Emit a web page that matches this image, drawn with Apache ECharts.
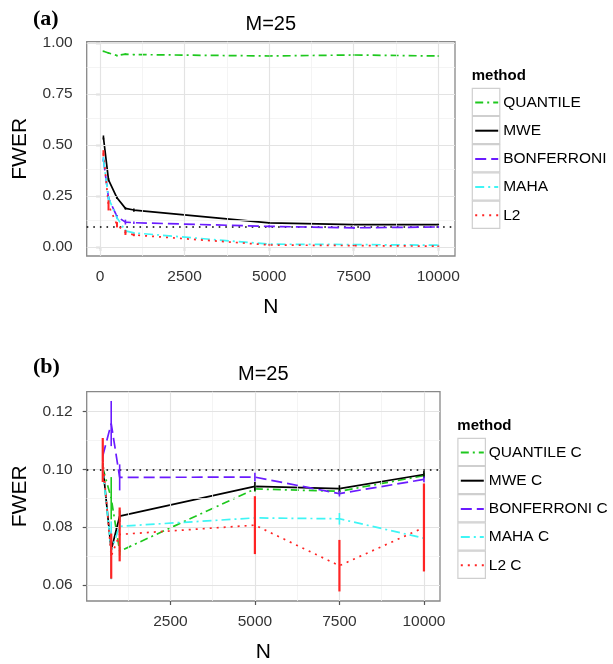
<!DOCTYPE html>
<html><head><meta charset="utf-8">
<script src="https://cdn.jsdelivr.net/npm/echarts@6/dist/echarts.min.js"></script>
<style>html,body{margin:0;padding:0;background:#fff}#c{width:613px;height:664px}</style>
</head><body><div id="c"></div>
<script>
// ---------- data: panel (a) ----------
const N_A = [100, 250, 500, 750, 1000, 5000, 7500, 10000];
const QUANTILE_A   = [0.959, 0.951, 0.938, 0.945, 0.943, 0.936, 0.941, 0.936];
const MWE_A        = [0.537, 0.330, 0.242, 0.190, 0.182, 0.119, 0.111, 0.111];
const BONFERRONI_A = [0.430, 0.240, 0.150, 0.123, 0.120, 0.102, 0.095, 0.099];
const MAHA_A       = [0.430, 0.240, 0.145, 0.080, 0.070, 0.015, 0.013, 0.010];
const L2_A         = [0.460, 0.205, 0.110, 0.072, 0.060, 0.011, 0.008, 0.005];
const QUANTILE_A_ERR   = [0.004, 0.004, 0.004, 0.004, 0.003, 0.003, 0.003, 0.003];
const MWE_A_ERR        = [0.010, 0.008, 0.006, 0.006, 0.008, 0.004, 0.003, 0.004];
const BONFERRONI_A_ERR = [0.010, 0.008, 0.008, 0.012, 0.006, 0.005, 0.005, 0.005];
const MAHA_A_ERR       = [0.012, 0.010, 0.008, 0.007, 0.005, 0.003, 0.003, 0.003];
const L2_A_ERR         = [0.015, 0.025, 0.013, 0.012, 0.006, 0.003, 0.003, 0.003];
const NAMES_A = ['QUANTILE', 'MWE', 'BONFERRONI', 'MAHA', 'L2'];

// ---------- data: panel (b) ----------
const N_B = [500, 750, 1000, 5000, 7500, 10000];
const QUANTILE_B   = [0.1005, 0.0900, 0.0717, 0.0932, 0.0924, 0.0978];
const MWE_B        = [0.1012, 0.0721, 0.0838, 0.0941, 0.0933, 0.0982];
const BONFERRONI_B = [0.1046, 0.1158, 0.0972, 0.0973, 0.0916, 0.0965];
const MAHA_B       = [0.1000, 0.0720, 0.0803, 0.0832, 0.0829, 0.0762];
const L2_B         = [0.1032, 0.0700, 0.0775, 0.0807, 0.0667, 0.0799];
const QUANTILE_B_ERR   = [0.0010, 0.0073, 0.0015, 0.0010, 0.0010, 0.0010];
const MWE_B_ERR        = [0.0010, 0.0020, 0.0020, 0.0015, 0.0012, 0.0012];
const BONFERRONI_B_ERR = [0.0020, 0.0078, 0.0045, 0.0015, 0.0010, 0.0010];
const MAHA_B_ERR       = [0.0015, 0.0100, 0.0010, 0.0010, 0.0020, 0.0010];
const L2_B_ERR         = [0.0076, 0.0078, 0.0093, 0.0100, 0.0089, 0.0152];
const NAMES_B = ['QUANTILE C', 'MWE C', 'BONFERRONI C', 'MAHA C', 'L2 C'];

// ---------- axis ticks ----------
const X_TICKS_A = [0, 2500, 5000, 7500, 10000];
const X_MINOR_A = [1250, 3750, 6250, 8750];
const Y_TICKS_A = [0, 0.25, 0.5, 0.75, 1.0];
const Y_MINOR_A = [0.125, 0.375, 0.625, 0.875];
const X_TICKS_B = [2500, 5000, 7500, 10000];
const X_MINOR_B = [1250, 3750, 6250, 8750];
const Y_TICKS_B = [0.06, 0.08, 0.10, 0.12];
const Y_MINOR_B = [0.07, 0.09, 0.11];
const REF_LEVEL = 0.1;

// ---------- styles ----------
const FONT = 'Liberation Sans, Arial, Helvetica, sans-serif';
const COLORS = ['#1ec81e', '#000000', '#6a1bff', '#3ff5f5', '#ff2424'];
const DASHES = [[8, 4, 2, 4], 'solid', [11, 5], [9, 4, 2, 4], [2, 5]];
const LW = 1.7;

const seriesA = [QUANTILE_A, MWE_A, BONFERRONI_A, MAHA_A, L2_A];
const errA = [QUANTILE_A_ERR, MWE_A_ERR, BONFERRONI_A_ERR, MAHA_A_ERR, L2_A_ERR];
const seriesB = [QUANTILE_B, MWE_B, BONFERRONI_B, MAHA_B, L2_B];
const errB = [QUANTILE_B_ERR, MWE_B_ERR, BONFERRONI_B_ERR, MAHA_B_ERR, L2_B_ERR];

function gridLines(idx, xs, ys, xm, ym) {
  const maj = {color: '#e3e3e3', width: 1.2, type: 'solid'};
  const min = {color: '#f1f1f1', width: 0.8, type: 'solid'};
  const data = [];
  xm.forEach(v => data.push({xAxis: v, lineStyle: min}));
  ym.forEach(v => data.push({yAxis: v, lineStyle: min}));
  xs.forEach(v => data.push({xAxis: v, lineStyle: maj}));
  ys.forEach(v => data.push({yAxis: v, lineStyle: maj}));
  return {
    type: 'line', xAxisIndex: idx, yAxisIndex: idx, data: [], z: 1, silent: true,
    symbol: 'none', lineStyle: {opacity: 0},
    markLine: {silent: true, symbol: ['none', 'none'], label: {show: false}, animation: false, data: data}
  };
}

function lineSeries(name, N, vals, idx, k, withRef) {
  const s = {
    name: name, type: 'line', xAxisIndex: idx, yAxisIndex: idx,
    data: N.map((n, i) => [n, vals[i]]),
    symbol: 'none', showSymbol: false, z: 3 + k, color: COLORS[k],
    lineStyle: {color: COLORS[k], width: LW, type: DASHES[k]},
    emphasis: {disabled: true}, animation: false
  };
  if (withRef) {
    s.markLine = {silent: true, symbol: ['none', 'none'], label: {show: false}, animation: false,
      lineStyle: {color: '#000', type: [1.6, 5], width: 1.6}, data: [{yAxis: REF_LEVEL}]};
  }
  return s;
}

function errSeries(name, N, vals, errs, idx, k, w) {
  return {
    name: name + ' err', type: 'custom', xAxisIndex: idx, yAxisIndex: idx, silent: true,
    z: 10 + k, animation: false,
    data: N.map((n, i) => [n, vals[i] - errs[i], vals[i] + errs[i]]),
    encode: {x: 0, y: [1, 2]},
    renderItem: function (params, api) {
      const x = api.value(0);
      const p1 = api.coord([x, api.value(1)]);
      const p2 = api.coord([x, api.value(2)]);
      return {type: 'line', shape: {x1: p1[0], y1: p1[1], x2: p2[0], y2: p2[1]},
        style: {stroke: COLORS[k], lineWidth: w}};
    }
  };
}

const series = [gridLines(0, X_TICKS_A, Y_TICKS_A, X_MINOR_A, Y_MINOR_A),
                gridLines(1, X_TICKS_B, Y_TICKS_B, X_MINOR_B, Y_MINOR_B)];
NAMES_A.forEach((nm, k) => series.push(lineSeries(nm, N_A, seriesA[k], 0, k, k === 1)));
NAMES_A.forEach((nm, k) => series.push(errSeries(nm, N_A, seriesA[k], errA[k], 0, k, k === 4 ? 2 : 1.6)));
NAMES_B.forEach((nm, k) => series.push(lineSeries(nm, N_B, seriesB[k], 1, k, k === 1)));
NAMES_B.forEach((nm, k) => series.push(errSeries(nm, N_B, seriesB[k], errB[k], 1, k, k === 4 ? 2.2 : 1.6)));

const tickLabel = {fontSize: 15.5, fontFamily: FONT, color: '#333'};
function xAxis(idx, min, max, ticks) {
  return {
    type: 'value', gridIndex: idx, min: min, max: max,
    name: 'N', nameLocation: 'middle', nameGap: 41,
    nameTextStyle: {fontSize: 21, fontFamily: FONT, color: '#000'},
    axisLine: {show: false},
    axisTick: {show: true, length: 4, customValues: ticks, lineStyle: {color: '#555', width: 1.2}},
    axisLabel: Object.assign({customValues: ticks, margin: 13, formatter: v => String(Math.round(v))}, tickLabel),
    splitLine: {show: false}
  };
}
function yAxis(idx, min, max, ticks) {
  return {
    type: 'value', gridIndex: idx, min: min, max: max,
    name: 'FWER', nameLocation: 'middle', nameGap: 56,
    nameTextStyle: {fontSize: 21, fontFamily: FONT, color: '#000'},
    axisLine: {show: false},
    axisTick: {show: true, length: 4, customValues: ticks, lineStyle: {color: '#555', width: 1.2}},
    axisLabel: Object.assign({customValues: ticks, margin: 14, formatter: v => v.toFixed(2)}, tickLabel),
    splitLine: {show: false}
  };
}

function legendBoxes(left, top) {
  const els = [];
  for (let i = 0; i < 5; i++) {
    els.push({type: 'rect', left: left, top: top + i * 28.2, z: 0,
      shape: {width: 27.5, height: 27.2},
      style: {fill: '#fff', stroke: '#cfcfcf', lineWidth: 1.2}});
  }
  return els;
}

const legendCommon = {orient: 'vertical', itemWidth: 23, itemHeight: 14, itemGap: 12.2, padding: 0,
  selectedMode: false, itemStyle: {opacity: 0, borderWidth: 0},
  textStyle: {fontSize: 15.5, fontFamily: FONT, color: '#000'}};

const option = {
  backgroundColor: '#fff',
  animation: false,
  grid: [
    {left: 86.7, top: 41.7, width: 368.3, height: 214.3, show: true, backgroundColor: '#fff', borderColor: '#888', borderWidth: 1.3, z: 0},
    {left: 86.7, top: 391.7, width: 353.3, height: 214.3, show: true, backgroundColor: '#fff', borderColor: '#888', borderWidth: 1.3, z: 0}
  ],
  xAxis: [xAxis(0, -395, 10495, X_TICKS_A), xAxis(1, 25, 10475, X_TICKS_B)],
  yAxis: [yAxis(0, -0.043, 1.006, Y_TICKS_A), yAxis(1, 0.0545, 0.1268, Y_TICKS_B)],
  title: [
    {text: 'M=25', left: 270.8, top: 14.5, textAlign: 'center', padding: 0, textStyle: {fontSize: 20, fontWeight: 'normal', fontFamily: FONT, color: '#000'}},
    {text: 'M=25', left: 263.3, top: 364.5, textAlign: 'center', padding: 0, textStyle: {fontSize: 20, fontWeight: 'normal', fontFamily: FONT, color: '#000'}},
    {text: '(a)', left: 33, top: 8, padding: 0, textStyle: {fontSize: 22, fontWeight: 'bold', fontFamily: 'Liberation Serif, Times New Roman, serif', color: '#000'}},
    {text: '(b)', left: 33, top: 356, padding: 0, textStyle: {fontSize: 22, fontWeight: 'bold', fontFamily: 'Liberation Serif, Times New Roman, serif', color: '#000'}}
  ],
  legend: [
    Object.assign({data: NAMES_A, left: 474.2, top: 94.5}, legendCommon),
    Object.assign({data: NAMES_B, left: 459.8, top: 444.5}, legendCommon)
  ],
  graphic: [
    {type: 'text', left: 471.7, top: 68, z: 5, style: {text: 'method', font: 'bold 15px ' + FONT, fill: '#000'}},
    {type: 'text', left: 457.3, top: 418, z: 5, style: {text: 'method', font: 'bold 15px ' + FONT, fill: '#000'}}
  ].concat(legendBoxes(471.7, 87.7)).concat(legendBoxes(457.3, 437.7)),
  series: series
};

const chart = echarts.init(document.getElementById('c'), null, {renderer: 'canvas'});
chart.setOption(option);
</script>
</body></html>
